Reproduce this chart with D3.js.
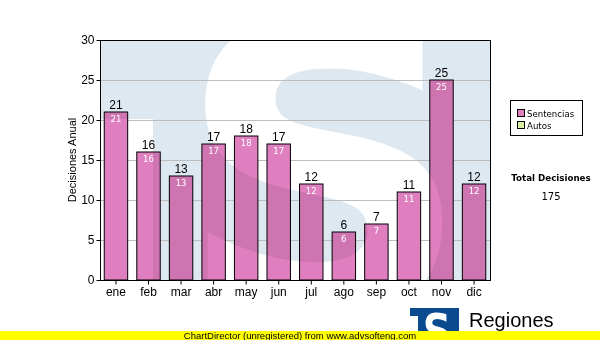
<!DOCTYPE html>
<html>
<head>
<meta charset="utf-8">
<script src="https://cdn.jsdelivr.net/npm/d3@7"></script>
<style>
	body { margin: 0; background: #fff; }
	svg { display: block; }
	.shade { mix-blend-mode: multiply; }
</style>
</head>
<body>
<svg id="chart" width="600" height="340"></svg>
<script>
const months = ["ene", "feb", "mar", "abr", "may", "jun", "jul", "ago", "sep", "oct", "nov", "dic"];
const sentencias = [21, 16, 13, 17, 18, 17, 12, 6, 7, 11, 25, 12];
const yTicks = [0, 5, 10, 15, 20, 25, 30];
const legendItems = ["Sentencias", "Autos"];
const legendColors = ["#e07fc0", "#d8eea0"];
const totalLabel = "Total Decisiones";
const total = d3.sum(sentencias);

const width = 600,
	height = 340;

const plot = {left: 100, right: 490, top: 40, bottom: 280};

const xScale = d3.scaleBand()
	.domain(months)
	.range([plot.left, plot.right])
	.paddingInner(0.28)
	.paddingOuter(0.13);

const yScale = d3.scaleLinear()
	.domain([0, 30])
	.range([plot.bottom, plot.top]);

const svg = d3.select("#chart");
const defs = svg.append("defs");

defs.append("clipPath")
	.attr("id", "plotClip")
	.append("rect")
	.attr("x", plot.left)
	.attr("y", plot.top)
	.attr("width", plot.right - plot.left)
	.attr("height", plot.bottom - plot.top);

defs.append("clipPath")
	.attr("id", "barClip")
	.selectAll("rect")
	.data(sentencias)
	.join("rect")
	.attr("x", (d, i) => xScale(months[i]))
	.attr("y", d => yScale(d))
	.attr("width", xScale.bandwidth())
	.attr("height", d => yScale(0) - yScale(d));

// watermark logo: blue field with the white S
function watermark(g, blue) {
	g.append("rect")
		.attr("x", plot.left)
		.attr("y", plot.top)
		.attr("width", plot.right - plot.left)
		.attr("height", plot.bottom - plot.top)
		.attr("fill", blue);
	g.append("rect")
		.attr("x", plot.left)
		.attr("y", 119)
		.attr("width", 53)
		.attr("height", plot.bottom - 119)
		.attr("fill", "#fff");
	g.append("text")
		.attr("transform", "translate(324,311) scale(1.03,1)")
		.attr("text-anchor", "middle")
		.attr("font-family", "DejaVu Sans")
		.attr("font-weight", "bold")
		.attr("font-size", 400)
		.attr("fill", "#fff")
		.text("S");
}

watermark(svg.append("g").attr("clip-path", "url(#plotClip)"), "#dde8f1");

// grid
svg.append("g")
	.selectAll("line")
	.data(yTicks.slice(1, -1))
	.join("line")
	.attr("x1", plot.left)
	.attr("x2", plot.right)
	.attr("y1", d => yScale(d) + 0.5)
	.attr("y2", d => yScale(d) + 0.5)
	.attr("stroke", "#bdbdbd")
	.attr("stroke-width", 1);

// bars
svg.append("g")
	.selectAll("rect")
	.data(sentencias)
	.join("rect")
	.attr("x", (d, i) => xScale(months[i]))
	.attr("y", d => yScale(d))
	.attr("width", xScale.bandwidth())
	.attr("height", d => yScale(0) - yScale(d))
	.attr("fill", legendColors[0]);

// watermark shows faintly through the bars
watermark(svg.append("g")
	.attr("class", "shade")
	.attr("clip-path", "url(#barClip)"), "#ebebeb");

svg.append("g")
	.selectAll("rect")
	.data(sentencias)
	.join("rect")
	.attr("x", (d, i) => xScale(months[i]))
	.attr("y", d => yScale(d))
	.attr("width", xScale.bandwidth())
	.attr("height", d => yScale(0) - yScale(d))
	.attr("fill", "none")
	.attr("stroke", "#000")
	.attr("stroke-width", 1);

// plot frame
svg.append("rect")
	.attr("x", plot.left + 0.5)
	.attr("y", plot.top + 0.5)
	.attr("width", plot.right - plot.left)
	.attr("height", plot.bottom - plot.top)
	.attr("fill", "none")
	.attr("stroke", "#000");

// value labels
svg.append("g")
	.selectAll("text")
	.data(sentencias)
	.join("text")
	.attr("x", (d, i) => xScale(months[i]) + xScale.bandwidth() / 2)
	.attr("y", d => yScale(d) - 3)
	.attr("text-anchor", "middle")
	.attr("font-family", "Liberation Sans, Arial")
	.attr("font-size", 12)
	.attr("fill", "#000")
	.text(d => d);

svg.append("g")
	.selectAll("text")
	.data(sentencias)
	.join("text")
	.attr("x", (d, i) => xScale(months[i]) + xScale.bandwidth() / 2)
	.attr("y", d => yScale(d) + 10)
	.attr("text-anchor", "middle")
	.attr("font-family", "DejaVu Sans")
	.attr("font-size", 8.5)
	.attr("fill", "#fff")
	.text(d => d);

// y axis
const yAxis = svg.append("g")
	.attr("transform", `translate(${plot.left + 0.5},0)`)
	.call(d3.axisLeft(yScale).tickValues(yTicks).tickSize(4).tickPadding(2));
yAxis.select(".domain").remove();
yAxis.selectAll("text")
	.attr("font-family", "Liberation Sans, Arial")
	.attr("font-size", 12)
	.attr("fill", "#000");

// x axis
const xAxis = svg.append("g")
	.attr("transform", `translate(0,${plot.bottom + 0.5})`)
	.call(d3.axisBottom(xScale).tickSize(4).tickPadding(3));
xAxis.select(".domain").remove();
xAxis.selectAll("text")
	.attr("font-family", "Liberation Sans, Arial")
	.attr("font-size", 12)
	.attr("fill", "#000");

svg.append("text")
	.attr("transform", "translate(76,160) rotate(-90)")
	.attr("text-anchor", "middle")
	.attr("font-family", "Liberation Sans, Arial")
	.attr("font-size", 11)
	.text("Decisiones Anual");

// legend
const legend = svg.append("g");
legend.append("rect")
	.attr("x", 510.5)
	.attr("y", 100.5)
	.attr("width", 72)
	.attr("height", 35)
	.attr("fill", "#fff")
	.attr("stroke", "#000");

legend.selectAll("rect.key")
	.data(legendItems)
	.join("rect")
	.attr("class", "key")
	.attr("x", 517.5)
	.attr("y", (d, i) => 109.5 + i * 12)
	.attr("width", 7)
	.attr("height", 7)
	.attr("fill", (d, i) => legendColors[i])
	.attr("stroke", "#000");

legend.selectAll("text")
	.data(legendItems)
	.join("text")
	.attr("x", 527)
	.attr("y", (d, i) => 117 + i * 12)
	.attr("font-family", "DejaVu Sans")
	.attr("font-size", 8.6)
	.text(d => d);

svg.append("text")
	.attr("x", 551)
	.attr("y", 181)
	.attr("text-anchor", "middle")
	.attr("font-family", "DejaVu Sans")
	.attr("font-weight", "bold")
	.attr("font-size", 8.7)
	.text(totalLabel);

svg.append("text")
	.attr("x", 551)
	.attr("y", 200)
	.attr("text-anchor", "middle")
	.attr("font-family", "DejaVu Sans")
	.attr("font-size", 10)
	.text(total);

// footer logo
defs.append("clipPath")
	.attr("id", "logoClip")
	.append("rect")
	.attr("x", 410)
	.attr("y", 308)
	.attr("width", 49)
	.attr("height", 23);

const logo = svg.append("g").attr("clip-path", "url(#logoClip)");
logo.append("rect")
	.attr("x", 410)
	.attr("y", 308)
	.attr("width", 49)
	.attr("height", 23)
	.attr("fill", "#0a4a8e");
logo.append("rect")
	.attr("x", 410)
	.attr("y", 316)
	.attr("width", 8)
	.attr("height", 24)
	.attr("fill", "#fff");
logo.append("text")
	.attr("transform", "translate(437,348) scale(0.82,1)")
	.attr("text-anchor", "middle")
	.attr("font-family", "DejaVu Sans")
	.attr("font-weight", "bold")
	.attr("font-size", 48)
	.attr("fill", "#fff")
	.text("S");

svg.append("text")
	.attr("x", 469)
	.attr("y", 327)
	.attr("font-family", "Liberation Sans, Arial")
	.attr("font-size", 20)
	.text("Regiones");

// unregistered banner
svg.append("rect")
	.attr("x", 0)
	.attr("y", 331)
	.attr("width", width)
	.attr("height", height - 331)
	.attr("fill", "#ffff00");

svg.append("text")
	.attr("x", 300)
	.attr("y", 339)
	.attr("text-anchor", "middle")
	.attr("font-family", "Liberation Sans, Arial")
	.attr("font-size", 9.5)
	.attr("fill", "#000")
	.text("ChartDirector (unregistered) from www.advsofteng.com");
</script>
</body>
</html>
